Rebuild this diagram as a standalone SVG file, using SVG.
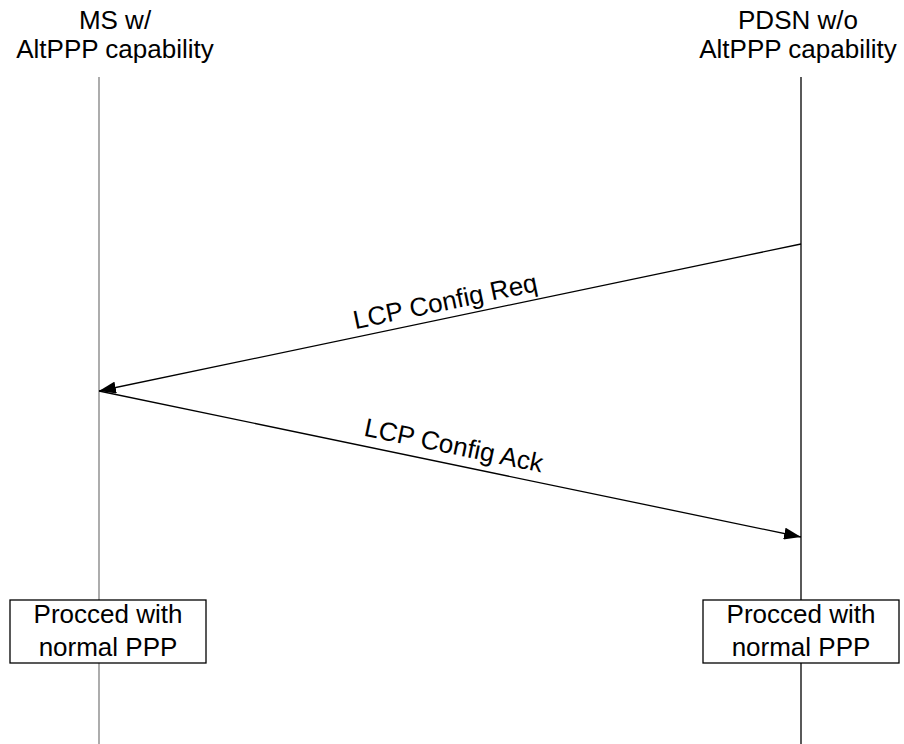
<svg xmlns="http://www.w3.org/2000/svg" width="904" height="744" viewBox="0 0 904 744">
<style>
text{font-family:"Liberation Sans",Arial,sans-serif;font-size:26px;fill:#000;text-anchor:middle}
.msg{stroke:#000;stroke-width:1.3;fill:none}
.box{fill:#fff;stroke:#000;stroke-width:1.3}
</style>
<defs>
<marker id="ah" markerWidth="18" markerHeight="12" refX="17" refY="6" orient="auto" markerUnits="userSpaceOnUse">
<path d="M0,0 L17,6 L0,12 Z" fill="#000"/>
</marker>
</defs>
<rect width="904" height="744" fill="#fff"/>
<g id="ms">
<text x="115" y="29">MS w/</text>
<text x="115" y="58">AltPPP capability</text>
<line x1="99" y1="77" x2="99" y2="744" stroke="#808080" stroke-width="1.3"/>
</g>
<g id="pdsn">
<text x="798" y="29">PDSN w/o</text>
<text x="798" y="58">AltPPP capability</text>
<line x1="801" y1="77" x2="801" y2="744" stroke="#000" stroke-width="1.3"/>
</g>
<g id="connectors">
<line class="msg" x1="801" y1="244" x2="99" y2="391" marker-end="url(#ah)"/>
<line class="msg" x1="99" y1="391" x2="801" y2="537" marker-end="url(#ah)"/>
<text transform="translate(447,310) rotate(-11.8)">LCP Config Req</text>
<text transform="translate(452,454) rotate(11.75)">LCP Config Ack</text>
</g>
<g id="box-ms">
<rect class="box" x="10" y="600" width="196" height="63"/>
<text x="108" y="623">Procced with</text>
<text x="108" y="656">normal PPP</text>
</g>
<g id="box-pdsn">
<rect class="box" x="703" y="600" width="196" height="63"/>
<text x="801" y="623">Procced with</text>
<text x="801" y="656">normal PPP</text>
</g>
</svg>
